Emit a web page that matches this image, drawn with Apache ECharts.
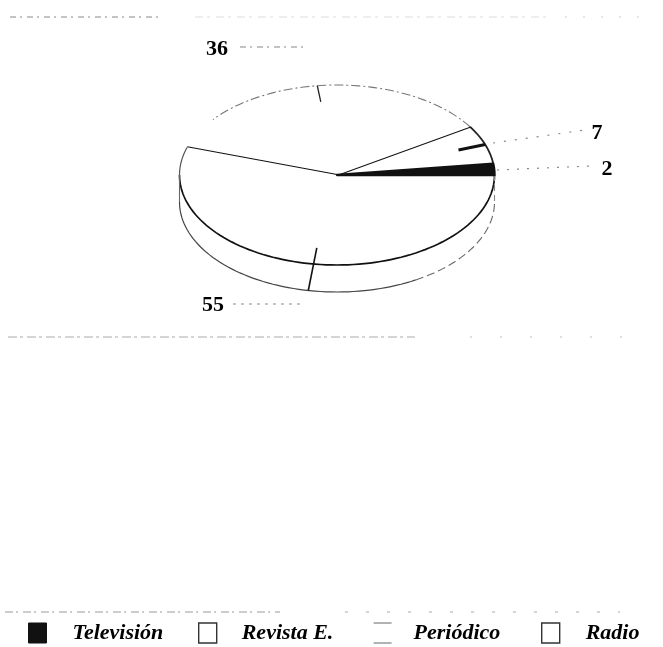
<!DOCTYPE html>
<html lang="es">
<head>
    <meta charset="utf-8">
    <title>Medios</title>
    <script src="https://cdn.jsdelivr.net/npm/echarts@6/dist/echarts.min.js"></script>
    <style>
        html, body { margin: 0; padding: 0; background: #fff; }
        #main { width: 663px; height: 647px; filter: blur(0.45px); }
    </style>
</head>
<body>
<div id="main"></div>
<script type="text/javascript">
// datos
var categories = ['Televisión', 'Revista E.', 'Periódico', 'Radio'];
var values = [2, 7, 36, 55];
var total = 100;

// geometria de la elipse
var cx = 337, cy = 175, rx = 157.5, ry = 90, depth = 27;
var serif = '"Liberation Serif", serif';

// posicion de cada etiqueta y fin de su linea guia
var labelPos = [[607, 169], [597, 133], [217, 49], [213, 305]];
var leaderFrom = [[497, 170], [493, 143], [240, 47], [233, 304]];
var leaderTo = [[590, 166], [585, 130], [307, 47], [300, 304]];
var leaderDash = [[2, 8], [2, 9], [6, 4, 2, 5], [3, 5]];

function pt(deg, f, dy) {
    var t = deg * Math.PI / 180;
    return [cx + f * rx * Math.cos(t), cy - f * ry * Math.sin(t) + (dy || 0)];
}

function arc(a, b, dy) {
    var pts = [];
    var n = Math.max(2, Math.ceil(Math.abs(b - a) / 2));
    for (var i = 0; i <= n; i++) {
        pts.push(pt(a + (b - a) * i / n, 1, dy));
    }
    return pts;
}

function line(points, color, width, dash) {
    return {
        type: 'polyline',
        shape: { points: points },
        style: { fill: null, stroke: color, lineWidth: width, lineDash: dash || null }
    };
}

function startAngle(idx) {
    var sum = 0;
    for (var i = 0; i < idx; i++) sum += values[i];
    return sum / total * 360;
}

function makeRender(idx) {
    return function (params, api) {
        var a = startAngle(idx);
        var b = a + api.value(0) / total * 360;
        var mid = (a + b) / 2;
        var kids = [];

        kids.push({
            type: 'polygon',
            shape: { points: [[cx, cy]].concat(arc(a, b)) },
            style: idx === 0
                ? { fill: '#111', stroke: '#111', lineWidth: 2.4, lineJoin: 'round' }
                : { fill: '#fff', stroke: null }
        });

        if (idx === 1) {
            kids.push(line(arc(a, b), '#222', 1.8));
            kids.push(line([[cx, cy], pt(b, 1)], '#111', 1.9));
            kids.push(line([pt(mid, 1), pt(mid, 0.82)], '#111', 3));
        } else if (idx === 2) {
            // el borde superior casi no se ve en la copia
            kids.push(line(arc(a, b - 20), '#777', 1.1, [9, 3, 2, 3]));
            kids.push(line([[cx, cy], pt(b, 1)], '#111', 1.9));
            kids.push(line([pt(mid, 1), pt(mid, 0.82)], '#222', 1.3));
        } else if (idx === 3) {
            // pared lateral
            kids.push({
                type: 'polygon',
                shape: { points: arc(180, 360).concat(arc(360, 180, depth)) },
                style: { fill: '#fff', stroke: null }
            });
            kids.push(line(arc(a, 180), '#555', 1.2));
            kids.push(line(arc(180, b), '#111', 1.7));
            kids.push(line([pt(180, 1), pt(180, 1, depth)], '#666', 1.1));
            kids.push(line(arc(180, 300, depth), '#444', 1.2));
            kids.push(line(arc(300, 360, depth), '#666', 1.1, [8, 4]));
            kids.push(line([pt(360, 1), pt(360, 1, depth)], '#888', 1.1, [6, 4]));
            kids.push(line([pt(mid, 0.82), pt(mid - 1.5, 1, depth)], '#111', 1.6));
        }

        kids.push(line([leaderFrom[idx], leaderTo[idx]], '#888', 1.2, leaderDash[idx]));
        kids.push({
            type: 'text',
            x: labelPos[idx][0],
            y: labelPos[idx][1],
            style: {
                text: String(api.value(0)),
                fill: '#000',
                font: 'bold 22px ' + serif,
                textAlign: 'center',
                textVerticalAlign: 'middle'
            }
        });

        return { type: 'group', children: kids };
    };
}

// orden de dibujo: Radio primero para que la cuna negra quede encima
var series = categories.map(function (name, i) {
    return {
        name: name,
        type: 'custom',
        coordinateSystem: 'none',
        z: i === 0 ? 5 : 2,
        renderItem: makeRender(i),
        data: [[values[i]]],
        silent: true,
        animation: false
    };
});

// restos de las lineas punteadas del marco escaneado
function scanLine(x1, x2, y, color, dash) {
    return {
        type: 'line',
        silent: true,
        shape: { x1: x1, y1: y, x2: x2, y2: y },
        style: { stroke: color, lineWidth: 1, lineDash: dash }
    };
}

// una leyenda por categoria: los huecos de la copia no son iguales
var legendLeft = [28, 198, 373, 541];
var legendTextPad = [21, 20, 17, 21];
var legendStyles = [
    { color: '#111', borderColor: '#111', borderWidth: 1 },
    { color: '#fff', borderColor: '#333', borderWidth: 1.4 },
    { color: '#fff', borderColor: '#666', borderWidth: 1.2, borderType: [18, 20] },
    { color: '#fff', borderColor: '#333', borderWidth: 1.4 }
];
var legends = categories.map(function (name, i) {
    return {
        left: legendLeft[i],
        top: 622,
        padding: 0,
        icon: 'rect',
        itemWidth: 18,
        itemHeight: 20,
        selectedMode: false,
        data: [{ name: name, itemStyle: legendStyles[i] }],
        textStyle: {
            color: '#000',
            fontFamily: serif,
            fontStyle: 'italic',
            fontWeight: 'bold',
            fontSize: 22,
            padding: [0, 0, 0, legendTextPad[i]]
        }
    };
});

var myChart = echarts.init(document.getElementById('main'));
myChart.setOption({
    backgroundColor: '#fff',
    animation: false,
    legend: legends,
    graphic: [
        scanLine(10, 160, 17, '#888', [6, 4, 2, 5]),
        scanLine(195, 550, 17, '#ddd', [8, 4, 3, 6]),
        scanLine(565, 655, 17, '#ccc', [2, 16]),
        scanLine(8, 415, 337, '#aaa', [9, 3, 3, 4]),
        scanLine(470, 640, 337, '#bbb', [2, 28]),
        scanLine(5, 280, 612, '#999', [8, 3, 2, 5]),
        scanLine(345, 620, 612, '#aaa', [3, 18])
    ],
    series: series
});
</script>
</body>
</html>
